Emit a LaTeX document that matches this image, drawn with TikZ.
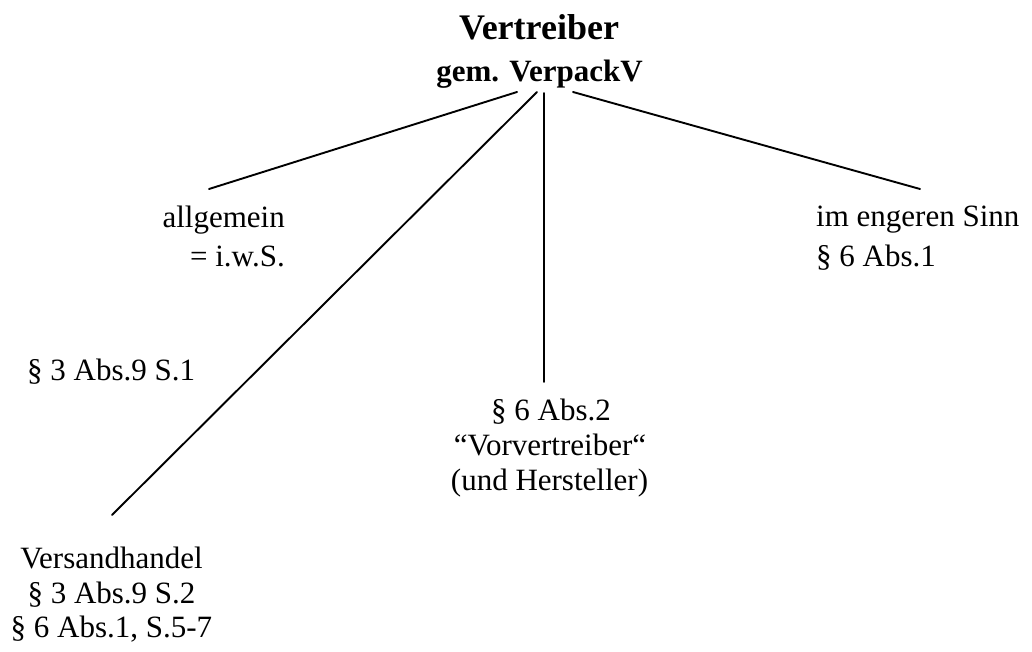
\documentclass[tikz,border=0pt]{standalone}
\usepackage{fontspec}
\setmainfont{Liberation Serif}
\begin{document}
\begin{tikzpicture}[x=1pt,y=-1pt,
  txt/.style={inner sep=0pt, font=\fontsize{31}{35}\selectfont},
  ttl/.style={inner sep=0pt, font=\fontsize{36}{40}\selectfont\bfseries},
  sub/.style={inner sep=0pt, font=\fontsize{31}{35}\selectfont\bfseries},
  link/.style={line width=1.9pt, line cap=round}]
\useasboundingbox (0,0) rectangle (1032,652);
% title
\node[ttl, anchor=base] (title) at (539,40) {Vertreiber};
\node[sub, anchor=base] (subt) at (539.5,82) {gem. VerpackV};
% connector end points
\coordinate (s1) at (517,92);
\coordinate (s2) at (537,92);
\coordinate (s3) at (544,93);
\coordinate (s4) at (573,92);
\coordinate (e1) at (209,189);
\coordinate (e2) at (112,515);
\coordinate (e3) at (544,382);
\coordinate (e4) at (920,189);
% texts
\node[txt, anchor=base east] (allg) at (285,228) {allgemein};
\node[txt, anchor=base east] (iws) at (285,266) {= i.w.S.};
\node[txt, anchor=base west] (ies) at (816,226) {im engeren Sinn};
\node[txt, anchor=base west] (p61) at (816,266) {§ 6 Abs.1};
\node[txt, anchor=base west] (p391) at (27,380) {§ 3 Abs.9 S.1};
\node[txt, anchor=base] (p62) at (551,420) {§ 6 Abs.2};
\node[txt, anchor=base] (vv) at (550,455) {“Vorvertreiber“};
\node[txt, anchor=base] (uh) at (549.5,490) {(und Hersteller)};
\node[txt, anchor=base] (vh) at (111.5,568) {Versandhandel};
\node[txt, anchor=base] (p392) at (111.5,603) {§ 3 Abs.9 S.2};
\node[txt, anchor=base] (p615) at (111.5,637) {§ 6 Abs.1, S.5-7};
% connectors
\draw[link] (s1) -- (e1);
\draw[link] (s2) -- (e2);
\draw[link] (s3) -- (e3);
\draw[link] (s4) -- (e4);
\end{tikzpicture}
\end{document}
